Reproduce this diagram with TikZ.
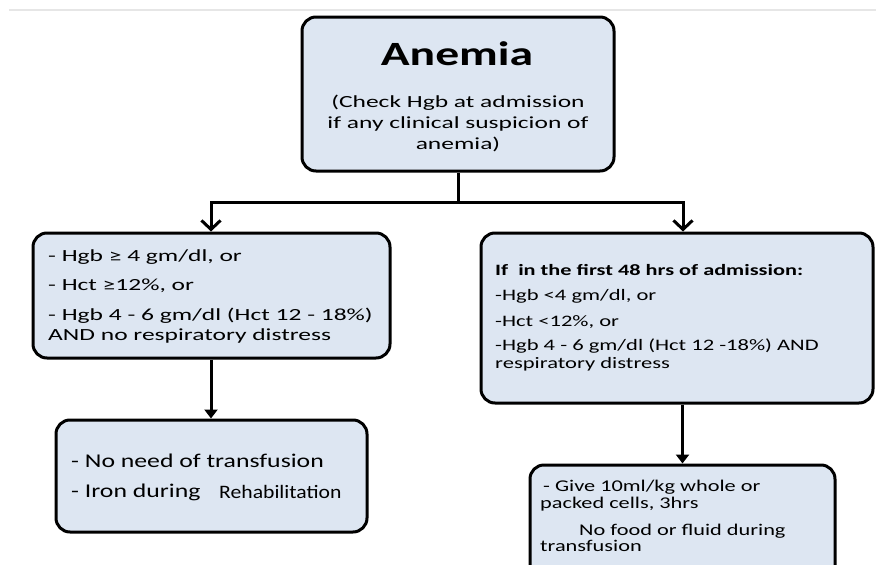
\documentclass[tikz,border=0pt]{standalone}
\usepackage{fontspec}
\setmainfont{Carlito}
\newfontfamily\fa[FakeStretch=1.4]{Carlito}
\newfontfamily\fb[FakeStretch=1.5]{Carlito}
\newfontfamily\fc[FakeStretch=1.41]{Carlito}
\newfontfamily\fd[FakeStretch=1.32]{Carlito}
\newfontfamily\fe[FakeStretch=1.14]{Carlito}
\newfontfamily\ff[FakeStretch=1.36]{Carlito}
\usetikzlibrary{arrows.meta}
\definecolor{boxfill}{RGB}{221,230,242}
\definecolor{rule}{RGB}{230,230,230}
\begin{document}
\begin{tikzpicture}[x=1pt,y=-1pt,
  box/.style={draw=black,line width=3pt,fill=boxfill,rounded corners=14pt,inner sep=0pt},
  conn/.style={line width=3pt,draw=black},
  barb/.style={conn,-{Straight Barb[length=9pt,width=19pt]}},
  tri/.style={conn,-{Triangle[length=9pt,width=13pt]}},
  lt/.style={inner sep=0pt,anchor=base west},
  ct/.style={inner sep=0pt,anchor=base}]
\clip (0,0) rectangle (876,565);
\draw[rule,line width=2pt] (9,10) -- (876,10);

% boxes
\node[box,minimum width=312pt,minimum height=154pt] (top) at (458,94) {};
\node[box,minimum width=357pt,minimum height=125pt] (L) at (211.5,295.5) {};
\node[box,minimum width=392pt,minimum height=170pt] (R) at (677,318) {};
\node[box,minimum width=311pt,minimum height=112pt] (BL) at (211.5,476) {};
\node[box,minimum width=305pt,minimum height=120pt] (BR) at (682.5,525) {};

% top box text
\node[ct,font=\fa\fontsize{34}{40}\selectfont\bfseries] (t0) at (457,65) {Anemia};
\node[ct,font=\fb\fontsize{17}{20}\selectfont] (t1) at (458,107.3) {(Check Hgb at admission};
\node[ct,font=\fb\fontsize{17}{20}\selectfont] (t2) at (458,128.3) {if any clinical suspicion of};
\node[ct,font=\fb\fontsize{17}{20}\selectfont] (t3) at (458,149.3) {anemia)};

% left box text
\node[lt,font=\fb\fontsize{17}{20}\selectfont] (l1) at (48,261.7) {- Hgb ≥ 4 gm/dl, or};
\node[lt,font=\fb\fontsize{17}{20}\selectfont] (l2) at (48,290.7) {- Hct ≥12\%, or};
\node[lt,font=\fb\fontsize{17}{20}\selectfont] (l3) at (48,320) {- Hgb 4 - 6 gm/dl (Hct 12 - 18\%)};
\node[lt,font=\fb\fontsize{17}{20}\selectfont] (l4) at (48,340) {AND no respiratory distress};

% right box text
\node[lt,font=\fc\fontsize{15.8}{19}\selectfont\bfseries] (r1) at (495,275.7) {If\ \ in the first 48 hrs of admission:};
\node[lt,font=\fc\fontsize{16}{19}\selectfont] (r2) at (495,300.7) {-Hgb <4 gm/dl, or};
\node[lt,font=\fc\fontsize{16}{19}\selectfont] (r3) at (495,326.7) {-Hct <12\%, or};
\node[lt,font=\fc\fontsize{16}{19}\selectfont] (r4) at (495,350) {-Hgb 4 - 6 gm/dl (Hct 12 -18\%) AND};
\node[lt,font=\fc\fontsize{16}{19}\selectfont] (r5) at (495,368.3) {respiratory distress};

% bottom left text
\node[lt,font=\fd\fontsize{19.5}{22}\selectfont] (b1) at (71,467.3) {- No need of transfusion};
\node[lt,font=\fd\fontsize{19.5}{22}\selectfont] (b2) at (71,497.7) {- Iron during};
\node[lt,font=\fe\fontsize{19}{22}\selectfont] (b3) at (219,498) {Rehabilitation};

% bottom right text
\node[lt,font=\ff\fontsize{16.4}{19}\selectfont] (c1) at (543,491.7) {- Give 10ml/kg whole or};
\node[lt,font=\ff\fontsize{16.4}{19}\selectfont] (c2) at (540,508.3) {packed cells, 3hrs};
\node[lt,font=\ff\fontsize{16.4}{19}\selectfont] (c3) at (579,535) {No food or fluid during};
\node[lt,font=\ff\fontsize{16.4}{19}\selectfont] (c4) at (540,551.7) {transfusion};

% connectors
\coordinate (j) at (458,202);
\coordinate (jL) at (211,202);
\coordinate (jR) at (683,202);
\draw[conn] (top.south) -- (j);
\draw[barb] (j) -- (jL) -- (jL |- L.north);
\draw[barb] (j) -- (jR) -- (jR |- R.north);
\draw[tri] (L.south -| jL) -- (BL.north -| jL);
\draw[tri] (R.south -| BR.north) -- (BR.north);
\end{tikzpicture}
\end{document}
